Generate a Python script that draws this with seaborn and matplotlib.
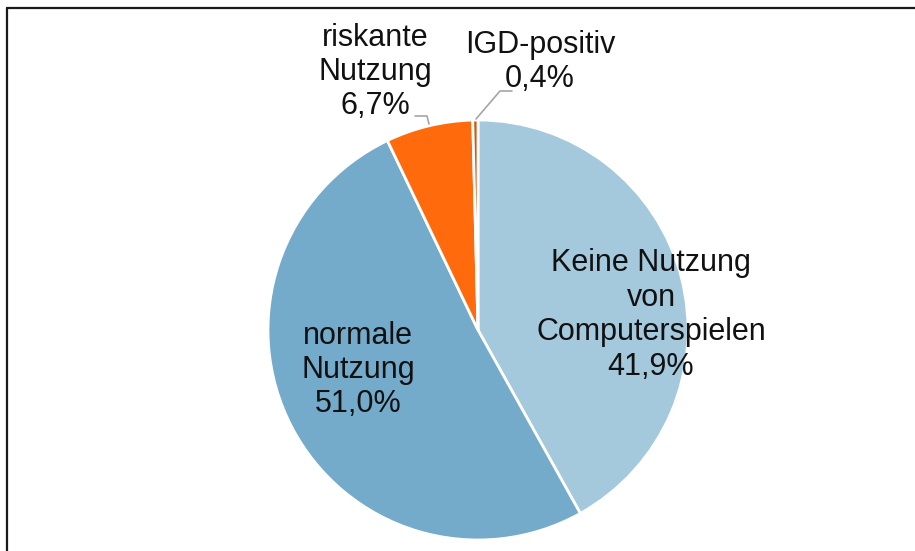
import matplotlib
matplotlib.use("Agg")
import matplotlib.pyplot as plt
import seaborn as sns
from matplotlib.lines import Line2D

# Categories and shares (%)
categories = ["Keine Nutzung\nvon\nComputerspielen", "normale\nNutzung",
              "riskante\nNutzung", "IGD-positiv"]
shares = [41.9, 51.0, 6.7, 0.4]
colors = ["#A4C8DC", "#74AACA", "#FF6A0D", "#D4570F"]

sns.set_theme(style="white")
plt.rcParams["font.family"] = ["Liberation Sans", "DejaVu Sans"]

W, H = 915, 551
fig = plt.figure(figsize=(W / 100, H / 100), dpi=100)
ax = fig.add_axes([0, 0, 1, 1])

cx, cy, r = 478, H - 330, 210
ax.pie(shares, colors=colors, startangle=90, counterclock=False,
       center=(cx, cy), radius=r,
       wedgeprops=dict(edgecolor="white", linewidth=2))
ax.set_xlim(0, W)
ax.set_ylim(0, H)
ax.set_aspect("equal")
ax.axis("off")


def pct(v):
    return f"{v:.1f}".replace(".", ",") + "%"


label_pos = [(651, 315), (358, 370), (375, 72), (540, 62)]
for name, v, (x, y) in zip(categories, shares, label_pos):
    ax.text(x, H - y, f"{name}\n{pct(v)}", ha="center", va="center",
            fontsize=22, color="#111111", linespacing=1.19)

# leader lines for the small slices
ax.plot([415, 427, 429], [H - 116, H - 116, H - 124], color="#A6A6A6", lw=1.2)
ax.plot([476, 500, 512], [H - 119, H - 91, H - 91], color="#A6A6A6", lw=1.2)

# chart-area border (top and left edges)
fig.add_artist(Line2D([7 / W, 1], [1 - 8 / H, 1 - 8 / H],
                      transform=fig.transFigure, color="#1a1a1a", lw=1.6))
fig.add_artist(Line2D([7 / W, 7 / W], [0, 1 - 8 / H],
                      transform=fig.transFigure, color="#1a1a1a", lw=1.6))

fig.savefig("out.png", dpi=100)
